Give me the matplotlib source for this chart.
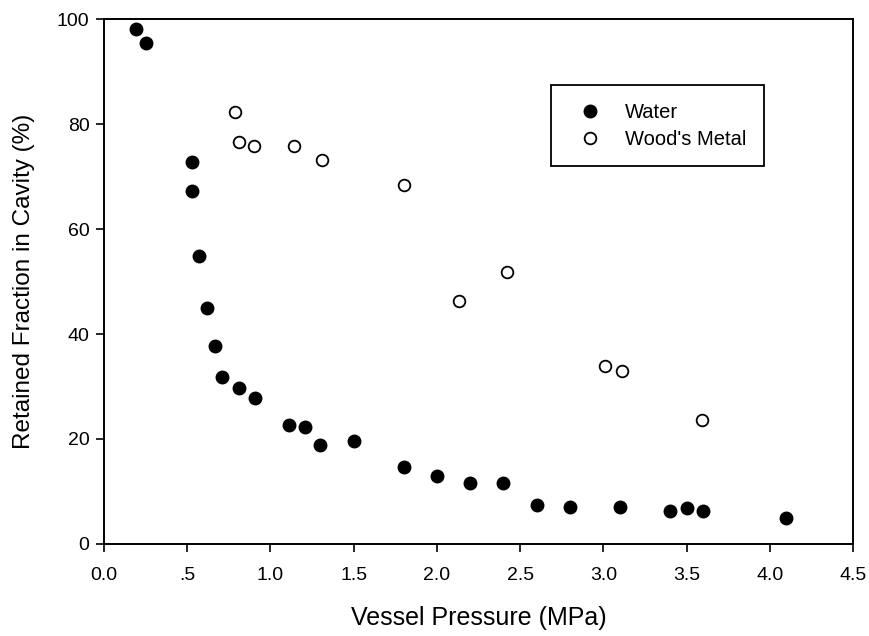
import matplotlib
matplotlib.use("Agg")
import matplotlib.pyplot as plt
from matplotlib.ticker import FixedLocator, FixedFormatter

plt.rcParams['font.family'] = ['Liberation Sans', 'DejaVu Sans']

water_x = [0.19, 0.25, 0.53, 0.53, 0.57, 0.62, 0.67, 0.71, 0.81, 0.91, 1.11, 1.21, 1.30, 1.50,
           1.80, 2.00, 2.20, 2.40, 2.60, 2.80, 3.10, 3.40, 3.50, 3.60, 4.10]
water_y = [98.2, 95.5, 72.7, 67.2, 54.8, 45.0, 37.8, 31.9, 29.7, 27.9, 22.7, 22.2, 18.9, 19.7,
           14.7, 13.0, 11.6, 11.6, 7.4, 7.1, 7.1, 6.3, 6.8, 6.3, 4.9]

wood_x = [0.79, 0.81, 0.90, 1.14, 1.31, 1.80, 2.13, 2.42, 3.01, 3.11, 3.59]
wood_y = [82.3, 76.5, 75.8, 75.9, 73.1, 68.4, 46.3, 51.8, 34.0, 33.0, 23.6]

x_ticks = [0.0, 0.5, 1.0, 1.5, 2.0, 2.5, 3.0, 3.5, 4.0, 4.5]
x_tick_labels = ["0.0", ".5", "1.0", "1.5", "2.0", "2.5", "3.0", "3.5", "4.0", "4.5"]
y_ticks = [0, 20, 40, 60, 80, 100]
y_tick_labels = ["0", "20", "40", "60", "80", "100"]

fig = plt.figure(figsize=(8.7, 6.36), dpi=100)
ax = fig.add_axes([0.1195, 0.1447, 0.861, 0.8253])

ax.plot(water_x, water_y, 'o', color='black', markersize=9.0, markeredgewidth=1.0,
        linestyle='none', label='Water')
ax.plot(wood_x, wood_y, 'o', markerfacecolor='white', markeredgecolor='black', markeredgewidth=1.3,
        markersize=8.4, linestyle='none', label="Wood's Metal")

ax.set_xlim(0, 4.5)
ax.set_ylim(0, 100)
ax.xaxis.set_major_locator(FixedLocator(x_ticks))
ax.xaxis.set_major_formatter(FixedFormatter(x_tick_labels))
ax.yaxis.set_major_locator(FixedLocator(y_ticks))
ax.yaxis.set_major_formatter(FixedFormatter(y_tick_labels))
ax.tick_params(direction='out', length=5.5, width=1.2, labelsize=14)
ax.tick_params(axis='x', pad=11)
ax.tick_params(axis='y', pad=5)
for s in ax.spines.values():
    s.set_linewidth(1.4)

ax.set_xlabel("Vessel Pressure (MPa)", fontsize=18, va='center')
ax.xaxis.set_label_coords(0.5, -0.141)
ax.set_ylabel("Retained Fraction in Cavity (%)", fontsize=17.5, va='center')
ax.yaxis.set_label_coords(-0.1068, 0.5)

leg = ax.legend(loc='upper left', bbox_to_anchor=(0.5968, 0.8743), frameon=True, fancybox=False,
                edgecolor='black', fontsize=14.5, handletextpad=0.7, borderpad=0.87,
                labelspacing=0.4, handlelength=2.1, borderaxespad=0, framealpha=1)
leg.get_frame().set_linewidth(1.3)

fig.savefig("out.png", dpi=100)
